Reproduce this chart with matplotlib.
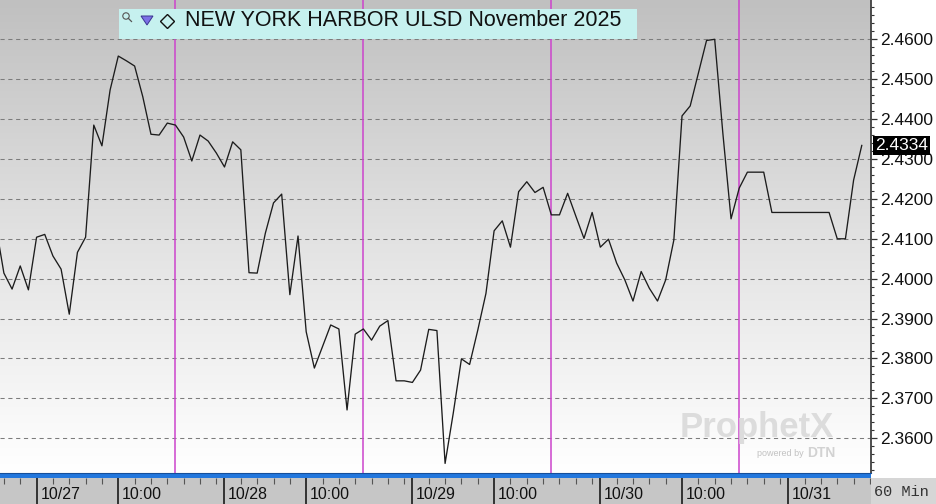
"""NY Harbor ULSD Nov 2025, 60 min close line in a ProphetX style frame."""

import numpy as np
import matplotlib
matplotlib.use('Agg')
import matplotlib.pyplot as plt
from matplotlib.colors import LinearSegmentedColormap
from matplotlib.patches import Rectangle, Polygon, Circle
from matplotlib.ticker import MultipleLocator, FuncFormatter
import matplotlib.transforms as mtransforms

plt.rcParams['font.family'] = ['Liberation Sans', 'DejaVu Sans']

TITLE = 'NEW YORK HARBOR ULSD November 2025'

# hourly closes; the first one is the partial bar cut off by the left edge
closes = [2.4135,
          2.4014, 2.3974, 2.4032, 2.3972, 2.4104, 2.4111, 2.4057, 2.4024, 2.3911, 2.4066,
          2.4104, 2.4385, 2.4333, 2.4473, 2.4558, 2.4546, 2.4533, 2.4456, 2.4362, 2.4360,
          2.4390, 2.4385, 2.4355, 2.4295, 2.4360, 2.4345, 2.4315, 2.4280, 2.4343, 2.4323,
          2.4015, 2.4014, 2.4114, 2.4190, 2.4212, 2.3960, 2.4107, 2.3867, 2.3776, 2.3830,
          2.3884, 2.3874, 2.3671, 2.3861, 2.3874, 2.3846, 2.3881, 2.3895, 2.3744, 2.3744,
          2.3740, 2.3771, 2.3873, 2.3870, 2.3537, 2.3663, 2.3799, 2.3785, 2.3871, 2.3963,
          2.4120, 2.4145, 2.4079, 2.4218, 2.4243, 2.4216, 2.4229, 2.4160, 2.4160, 2.4214,
          2.4157, 2.4101, 2.4166, 2.4079, 2.4099, 2.4039, 2.3997, 2.3944, 2.4018, 2.3976,
          2.3944, 2.3997, 2.4097, 2.4408, 2.4433, 2.4515, 2.4597, 2.4600, 2.4364, 2.4150,
          2.4227, 2.4267, 2.4267, 2.4267, 2.4166, 2.4166, 2.4166, 2.4166, 2.4166, 2.4166,
          2.4166, 2.4166, 2.4100, 2.4100, 2.4247, 2.4334]
bars = np.arange(-1, len(closes) - 1)

# bar index of each labelled time on the x axis
tick_bars = [4, 14, 27, 37, 50, 60, 73, 83, 96]
tick_labels = ['10/27', '10:00', '10/28', '10:00', '10/29', '10:00', '10/30', '10:00', '10/31']
# bar index where each new session (18:00) starts
session_bars = [21, 44, 67, 90]

W, H = 936, 504
fig = plt.figure(figsize=(W / 100, H / 100), dpi=100, facecolor='white')

XLIM = (-0.477, 106.13)
YLIM = (2.3513, 2.46985)

ax = fig.add_axes([0, 31 / H, 871 / W, 473 / H])
ax.set_xlim(*XLIM)
ax.set_ylim(*YLIM)

# grey -> white background
grad = LinearSegmentedColormap.from_list('bg', ['#c0c0c0', '#e2e2e2', '#ffffff'])
ax.imshow(np.linspace(0, 1, 256).reshape(-1, 1), extent=[*XLIM, *YLIM],
          aspect='auto', cmap=grad, origin='upper', zorder=0)

ax.set_yticks(np.arange(2.36, 2.4601, 0.01))
ax.yaxis.set_minor_locator(MultipleLocator(0.002))
ax.yaxis.set_major_formatter(FuncFormatter(lambda v, p: f'{v:.4f}'))
ax.yaxis.tick_right()
ax.tick_params(axis='y', which='major', length=4.5, width=0.9, color='#333333',
               pad=2.2, labelsize=12.5, labelcolor='#111111')
ax.tick_params(axis='y', which='minor', length=2.3, width=0.8, color='#333333')
ax.set_xticks([])
ax.yaxis.grid(True, color='#7c7c7c', lw=0.75, ls=(0, (4, 3.5)), zorder=1)
for s in ['top', 'left', 'bottom']:
    ax.spines[s].set_visible(False)
ax.spines['right'].set_color('#404040')
ax.spines['right'].set_linewidth(1.3)

for b in session_bars:
    ax.axvline(b, color='#cc44cc', lw=1.1, zorder=2)

ax.plot(bars, closes, color='#1c1c1c', lw=0.95, zorder=3)

# last price flag
blend = mtransforms.blended_transform_factory(ax.transAxes, ax.transData)
ax.text(1.0045, closes[-1], f'{closes[-1]:.4f}', transform=blend, ha='left',
        va='center', color='white', fontsize=12.5, clip_on=False, zorder=5,
        bbox=dict(boxstyle='square,pad=0.12', fc='black', ec='none'))

# time strip under the chart
ax2 = fig.add_axes([0, 0, 871 / W, 26 / H], facecolor='#c6c6c6')
ax2.set_xlim(*XLIM)
ax2.set_ylim(0, 1)
ax2.set_xticks([])
ax2.set_yticks([])
for s in ax2.spines.values():
    s.set_visible(False)
edges = [-2] + tick_bars + [108]
minor = [m for a, b in zip(edges[:-1], edges[1:]) for m in range(a + 2, b, 2)]
ax2.vlines(tick_bars, 0, 1, color='#1a1a1a', lw=1.2)
ax2.vlines(minor, 0.78, 1, color='#555555', lw=0.8)
for b, lab in zip(tick_bars, tick_labels):
    ax2.text(b + 0.45, 0.38, lab, ha='left', va='center', fontsize=11.5, color='#111111')

# overlay in pixel coords for the frame decorations
ov = fig.add_axes([0, 0, 1, 1], zorder=10)
ov.set_xlim(0, W)
ov.set_ylim(H, 0)
ov.axis('off')

ov.add_patch(Rectangle((0, 473), 871, 5, fc='#2277dd', ec='none'))
ov.plot([0, 871], [473.3, 473.3], color='#164f9a', lw=0.8)
ov.add_patch(Rectangle((871, 478), 65, 26, fc='#d6d6d6', ec='none'))
ov.text(874, 491.5, '60 Min', family=['Liberation Mono', 'DejaVu Sans Mono'],
        fontsize=11, color='#333333', ha='left', va='center')

# title box with its little icons
ov.add_patch(Rectangle((119, 9), 518, 29.5, fc='#c6f1ef', ec='none'))
ov.add_patch(Circle((126, 16), 3.2, fc='none', ec='#555555', lw=0.8))
ov.plot([128.3, 131.5], [18.3, 21.5], color='#555555', lw=0.9)
ov.add_patch(Polygon([[141, 16], [153, 16], [147, 25]], closed=True,
                     fc='#7b70e6', ec='#3b3590', lw=0.7))
ov.add_patch(Polygon([[167.5, 14.5], [174.5, 21.5], [167.5, 28.5], [160.5, 21.5]],
                     closed=True, fc='none', ec='#111111', lw=1.0))
ov.text(185, 20.5, TITLE, fontsize=15.5, color='#111111', ha='left', va='center')

# watermark
ov.text(757, 428, 'ProphetX', fontsize=25, fontweight='bold', color='#dcdcdc',
        ha='center', va='center')
ov.text(804, 454, 'powered by', fontsize=6.5, color='#c2c2c2', ha='right', va='center')
ov.text(807, 453, 'DTN', fontsize=10, fontweight='bold', color='#d2d2d2',
        ha='left', va='center')

fig.savefig('out.png', dpi=100, facecolor='white')
